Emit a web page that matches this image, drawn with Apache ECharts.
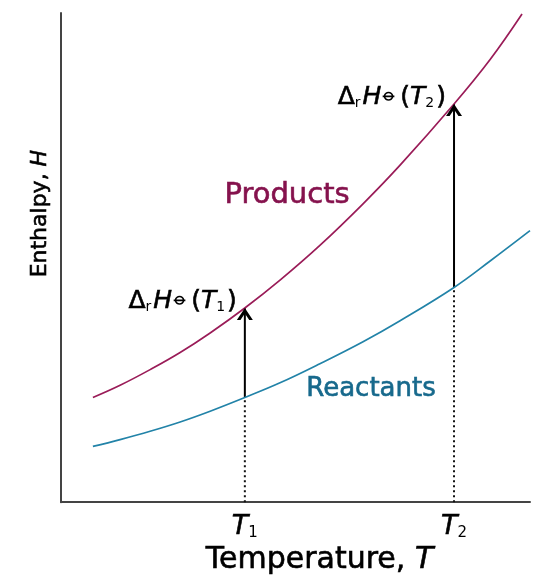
<!DOCTYPE html>
<html>
<head>
<meta charset="utf-8">
<script src="https://cdn.jsdelivr.net/npm/echarts@6/dist/echarts.min.js"></script>
<style>html,body{margin:0;padding:0;background:#fff}#c{width:534px;height:581px}</style>
</head>
<body>
<div id="c"></div>
<script>
// Temperature positions (arbitrary units, 0-100) and enthalpy values (0-100)
const productsT = [6.8, 12.6, 19.0, 25.4, 31.8, 39.2, 46.7, 55.2, 64.4, 72.3, 83.8, 91.5, 98.3];
const productsH = [21.4, 23.9, 27.1, 30.6, 34.6, 39.7, 45.4, 52.5, 61.0, 68.9, 81.4, 90.5, 99.8];
const reactantsT = [6.8, 12.6, 19.0, 25.4, 31.8, 39.2, 46.7, 55.2, 64.4, 72.3, 83.8, 91.5, 100];
const reactantsH = [11.4, 12.8, 14.5, 16.4, 18.6, 21.4, 24.4, 28.3, 32.8, 37.1, 43.9, 49.3, 55.5];
const markT = [39.2, 83.8];          // T1, T2
const markSub = ['1', '2'];
const arrowFrom = [21.4, 43.9];      // reactants H at T1, T2
const arrowTo = [39.7, 81.4];        // products H at T1, T2

const FONT = 'DejaVu Sans';
const prodLine = '#9a1c58', prodText = '#85124d';
const reacLine = '#2283a8', reacText = '#17698c';

function heavy(color) {
  return {textBorderColor: color, textBorderWidth: 0.6};
}
const labelRich = {
  d: Object.assign({fontFamily: FONT, fontSize: 25, color: '#000'}, heavy('#000')),
  i: Object.assign({fontFamily: FONT, fontSize: 25, fontStyle: 'italic', color: '#000'}, heavy('#000')),
  n: Object.assign({fontFamily: FONT, fontSize: 25, color: '#000'}, heavy('#000')),
  s: {fontFamily: FONT, fontSize: 14, color: '#000', verticalAlign: 'bottom', lineHeight: 14, padding: [0, 2, 0, 0]},
  p: {fontFamily: FONT, fontSize: 19, fontWeight: 'bold', color: '#000', verticalAlign: 'top', lineHeight: 18, padding: [0, 3, 0, 0]}
};

const series = [
  {type: 'line', data: productsT.map((t, i) => [t, productsH[i]]), smooth: 0.4, symbol: 'none',
   lineStyle: {color: prodLine, width: 1.7}, z: 3},
  {type: 'line', data: reactantsT.map((t, i) => [t, reactantsH[i]]), smooth: 0.4, symbol: 'none',
   lineStyle: {color: reacLine, width: 1.7}, z: 3}
];
markT.forEach((t, k) => {
  // dotted drop line
  series.push({type: 'line', data: [[t, 0], [t, arrowFrom[k]]], symbol: 'none',
    lineStyle: {color: '#111', width: 2, type: [2, 3]}, z: 2});
  // arrow shaft
  series.push({type: 'line', data: [[t, arrowFrom[k]], [t, arrowTo[k]]], symbol: 'none',
    lineStyle: {color: '#000', width: 2}, z: 2});
  // arrow head + label
  series.push({type: 'scatter', data: [[t, arrowTo[k]]],
    symbol: 'path://M0,11 L8,0 L16,11 L12.4,11 L8,5 L3.6,11 Z', symbolSize: [16, 12], symbolOffset: [0, 6],
    itemStyle: {color: '#000', opacity: 1}, z: 4,
    label: {show: true, position: 'left', distance: 0, offset: [0, -12], opacity: 1,
      formatter: '{d|Δ}{s|r}{i|H}{p|⦵}{n|(}{i|T}{s|' + markSub[k] + '}{n|)}', rich: labelRich}});
});
// curve name annotations
series.push({type: 'scatter', symbolSize: 0, silent: true, z: 5, itemStyle: {opacity: 1},
  data: [{value: [48.2, 62.6], label: Object.assign({formatter: 'Products', color: prodText, fontSize: 29}, heavy(prodText))},
         {value: [66.1, 23.0], label: Object.assign({formatter: 'Reactants', color: reacText, fontSize: 26}, heavy(reacText))}],
  label: {show: true, position: 'inside', fontFamily: FONT, opacity: 1}});

const option = {
  animation: false,
  backgroundColor: '#fff',
  grid: {left: 61, right: 4, top: 13, bottom: 67},
  xAxis: {
    type: 'value', min: 0, max: 100,
    axisLine: {lineStyle: {color: '#444', width: 2}},
    axisTick: {show: false}, splitLine: {show: false},
    axisLabel: {
      customValues: markT, margin: 11,
      formatter: v => '{i|T}{s|' + markSub[markT.indexOf(v)] + '}',
      rich: {
        i: Object.assign({fontFamily: FONT, fontSize: 27, fontStyle: 'italic', color: '#000'}, heavy('#000')),
        s: {fontFamily: FONT, fontSize: 15, color: '#000', verticalAlign: 'bottom', lineHeight: 15}
      }
    },
    name: '{a|Temperature, }{i|T}', nameLocation: 'middle', nameGap: 42,
    nameTextStyle: {fontFamily: FONT, fontSize: 30, color: '#000', padding: [0, 0, 0, 48],
      rich: {
        a: Object.assign({fontFamily: FONT, fontSize: 30, color: '#000'}, heavy('#000')),
        i: Object.assign({fontFamily: FONT, fontSize: 30, fontStyle: 'italic', color: '#000'}, heavy('#000'))
      }}
  },
  yAxis: {
    type: 'value', min: 0, max: 100,
    axisLine: {show: true, lineStyle: {color: '#444', width: 2}},
    axisTick: {show: false}, splitLine: {show: false}, axisLabel: {show: false},
    name: '{a|Enthalpy, }{i|H}', nameLocation: 'middle', nameGap: 10,
    nameTextStyle: {fontFamily: FONT, fontSize: 22, color: '#000', padding: [0, 0, 0, 88],
      rich: {
        a: Object.assign({fontFamily: FONT, fontSize: 22, color: '#000'}, heavy('#000')),
        i: Object.assign({fontFamily: FONT, fontSize: 22, fontStyle: 'italic', color: '#000'}, heavy('#000'))
      }}
  },
  series: series
};
const chart = echarts.init(document.getElementById('c'), null, {renderer: 'canvas'});
chart.setOption(option);
</script>
</body>
</html>
